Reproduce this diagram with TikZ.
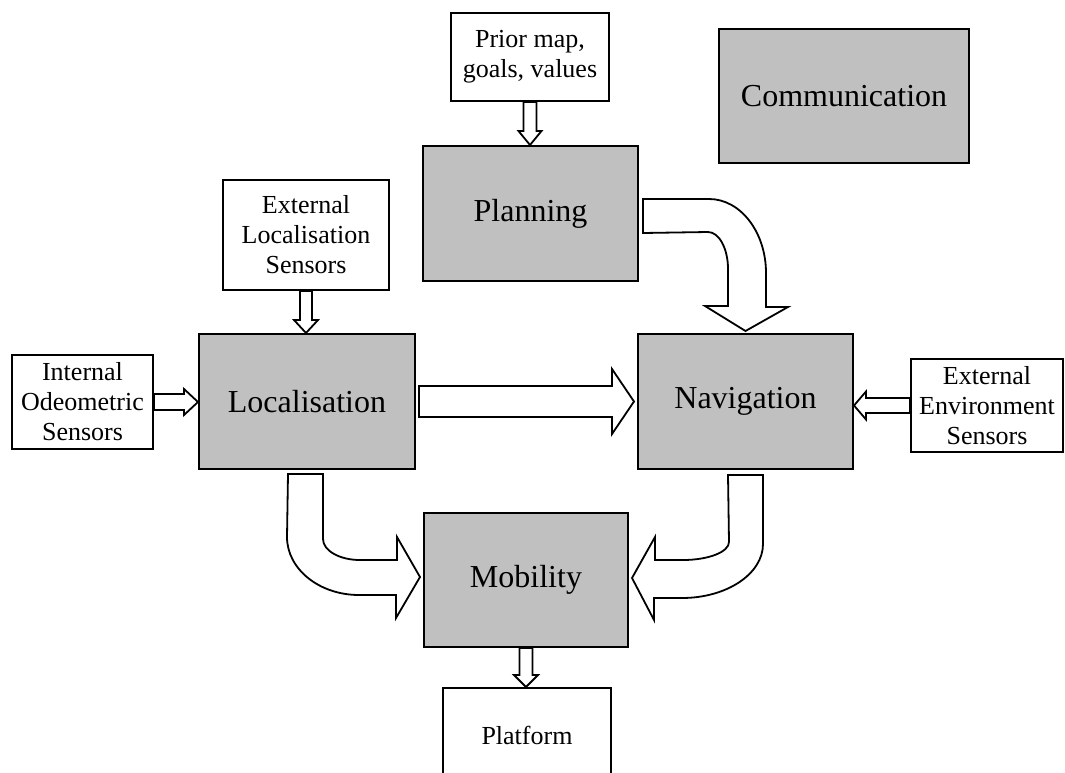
\documentclass[tikz,border=0pt]{standalone}
\usepackage{fontspec}
\setmainfont{Liberation Serif}
\usetikzlibrary{calc}
\definecolor{modgrey}{RGB}{192,192,192}

% hollow block arrow: from, to, half shaft, half head, head length
\newcommand{\blockarrow}[5]{%
  \coordinate (ba-a) at (#1);
  \coordinate (ba-b) at (#2);
  \coordinate (ba-h) at ($(ba-b)!#5!(ba-a)$);
  \draw[blockarr] ($(ba-a)!#3!90:(ba-b)$) -- ($(ba-h)!#3!90:(ba-b)$)
    -- ($(ba-h)!#4!90:(ba-b)$) -- (ba-b) -- ($(ba-h)!#4!-90:(ba-b)$)
    -- ($(ba-h)!#3!-90:(ba-b)$) -- ($(ba-a)!#3!-90:(ba-b)$) -- cycle;
}

\begin{document}
\begin{tikzpicture}[x=1pt,y=-1pt,
    module/.style={draw,fill=modgrey,line width=2pt,inner sep=0pt,
      font=\fontsize{32}{36}\selectfont},
    source/.style={draw,fill=white,line width=2pt,inner sep=0pt,align=center,
      font=\fontsize{26}{30}\selectfont},
    blockarr/.style={draw,fill=white,line width=1.8pt}]
    \useasboundingbox (0,0) rectangle (1065,773);
    \clip (0,0) rectangle (1065,773);
    %%
    \node[module,minimum width=215pt,minimum height=135pt] (plan) at (530.5,213.5) {Planning};
    \node[module,minimum width=250pt,minimum height=134pt] (comm) at (844,96) {Communication};
    \node[module,minimum width=216pt,minimum height=135pt] (loc) at (307,401.5) {Localisation};
    \node[module,minimum width=215pt,minimum height=135pt] (nav) at (745.5,401.5) {Navigation};
    \node[module,minimum width=204pt,minimum height=134pt] (mob) at (526,580) {Mobility};
    %%
    \node[source,minimum width=158pt,minimum height=88pt] (prior) at (530,57) {Prior map,\\goals, values};
    \node[source,minimum width=166pt,minimum height=110pt] (extloc) at (306,235) {External\\Localisation\\Sensors};
    \node[source,minimum width=141pt,minimum height=94pt] (intsens) at (82.5,402) {Internal\\Odeometric\\Sensors};
    \node[source,minimum width=152pt,minimum height=93pt] (extenv) at (987,405.5) {External\\Environment\\Sensors};
    \node[source,minimum width=168pt,minimum height=94pt] (plat) at (527,735) {Platform};
    %%
    \blockarrow{prior.south}{prior.south |- plan.north}{6.5pt}{11.5pt}{14pt}
    \blockarrow{extloc.south}{extloc.south |- loc.north}{6pt}{12pt}{13pt}
    \blockarrow{intsens.east}{intsens.east -| loc.west}{8pt}{13pt}{14pt}
    \blockarrow{extenv.west}{extenv.west -| nav.east}{7.5pt}{14pt}{12pt}
    \blockarrow{$(loc.east)+(3,0)$}{$(nav.west)+(-3,0)$}{15.5pt}{32.5pt}{22pt}
    \blockarrow{mob.south}{mob.south |- plat.north}{6.5pt}{12pt}{12pt}
    %%
    \draw[blockarr] ($(plan.east)+(4,-14.5)$) -- ++(66,0)
      arc[start angle=-90,end angle=0,x radius=57,y radius=74]
      -- ++(0,34) -- ++(22,0) -- ($(nav.north)+(0,-2)$) -- ++(-40.5,-25)
      -- ++(23,0) -- ++(0,-37)
      arc[start angle=0,end angle=-90,x radius=20,y radius=37]
      -- ($(plan.east)+(4,19.5)$) -- cycle;
    %%
    \draw[blockarr] ($(loc.south)+(-19,4)$) -- ++(35,0) -- ++(0,65)
      arc[start angle=180,end angle=90,x radius=37,y radius=21]
      -- ++(37,0) -- ++(0,-23) -- ($(mob.west)+(-3,-3)$) -- ++(-24,41)
      -- ++(0,-23) -- ++(-37,0)
      arc[start angle=90,end angle=180,x radius=72,y radius=58] -- cycle;
    %%
    \draw[blockarr] ($(nav.south)+(-17.5,5)$) -- ++(35,0) -- ++(0,69)
      arc[start angle=0,end angle=90,x radius=81,y radius=54]
      -- ++(-28,0) -- ++(0,22) -- ($(mob.east)+(3,-2)$) -- ++(23,-41)
      -- ++(0,23) -- ++(28,0)
      arc[start angle=90,end angle=0,x radius=46,y radius=18] -- cycle;
  \end{tikzpicture}
\end{document}
